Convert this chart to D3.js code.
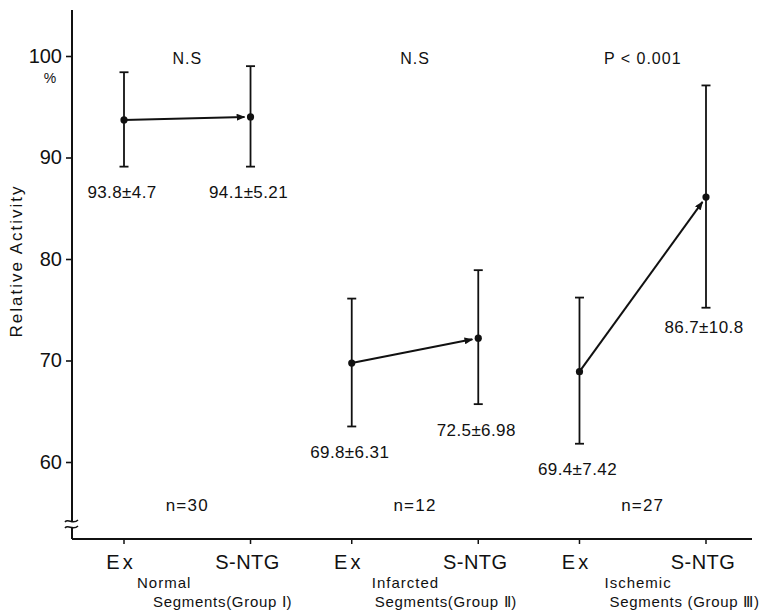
<!DOCTYPE html>
<meta charset="utf-8">
<script src="https://d3js.org/d3.v7.min.js"></script>
<style>
  body { margin: 0; background: #fff; }
  text { font-family: "Liberation Sans", Arial, sans-serif; fill: #111; }
</style>
<div id="my_dataviz"></div>
<script>

// data
var groups     = ["Normal", "Infarcted", "Ischemic"];
var groupSub   = ["Segments(Group \u2160)", "Segments(Group \u2161)", "Segments (Group \u2162)"];
var conditions = ["Ex", "S-NTG"];
var means  = [[93.7, 94.0], [69.75, 72.2], [68.9, 86.1]];
var upper  = [[98.4, 99.0], [76.1, 78.9], [76.2, 97.1]];
var lower  = [[89.1, 89.1], [63.5, 65.7], [61.8, 75.2]];
var valueLabels = [["93.8\u00b14.7", "94.1\u00b15.21"], ["69.8\u00b16.31", "72.5\u00b16.98"], ["69.4\u00b17.42", "86.7\u00b110.8"]];
var pLabels = ["N.S", "N.S", "P < 0.001"];
var nLabels = ["n=30", "n=12", "n=27"];
var yTicks  = [60, 70, 80, 90, 100];

// set the dimensions and margins of the graph
var margin = {top: 10, right: 8, bottom: 73, left: 72},
    width = 761 - margin.left - margin.right,
    height = 612 - margin.top - margin.bottom;

var svg = d3.select("#my_dataviz")
  .append("svg")
    .attr("width", width + margin.left + margin.right)
    .attr("height", height + margin.top + margin.bottom)
  .append("g")
    .attr("transform", "translate(" + margin.left + "," + margin.top + ")");

// x: slot positions, groups are a bit closer to each other than the two conditions
var groupStep = 1.8;
var x = d3.scaleLinear().domain([0, 4.6]).range([52, 634]);
function slot(g, c) { return g * groupStep + c; }

var y = d3.scaleLinear().domain([60, 100]).range([452, 46]);

// flat list of points
var pts = [];
groups.forEach(function(g, gi) {
  conditions.forEach(function(c, ci) {
    pts.push({g: gi, c: ci, cond: c, mean: means[gi][ci], hi: upper[gi][ci], lo: lower[gi][ci], label: valueLabels[gi][ci]});
  });
});

// Y axis
var yAxis = svg.append("g")
  .call(d3.axisLeft(y).tickValues(yTicks).tickSize(6).tickPadding(4));
yAxis.select(".domain").remove();
yAxis.selectAll("line").attr("stroke", "#111").attr("stroke-width", 1.6);
yAxis.selectAll("text").style("font-size", "20px").attr("fill", "#111");

svg.append("line")
  .attr("x1", 0).attr("x2", 0).attr("y1", 0).attr("y2", height)
  .attr("stroke", "#111").attr("stroke-width", 2);

// break mark on the y axis
var brk = svg.append("g").attr("transform", "translate(0," + (height - 15) + ")");
brk.append("rect").attr("x", -4).attr("y", -3).attr("width", 8).attr("height", 6).attr("fill", "#fff");
[-3, 3].forEach(function(dy) {
  brk.append("path")
    .attr("d", "M-7," + (dy + 1) + " C-4," + (dy - 3) + " 1," + (dy + 4) + " 6," + (dy - 1))
    .attr("fill", "none").attr("stroke", "#111").attr("stroke-width", 1.5);
});

svg.append("text")
  .attr("x", -22).attr("y", y(100) + 27)
  .attr("text-anchor", "middle")
  .style("font-size", "14px")
  .text("%");

// Y label
svg.append("text")
  .attr("transform", "translate(" + (-50) + "," + y(79.8) + ") rotate(-90)")
  .attr("text-anchor", "middle")
  .style("font-size", "17px")
  .style("letter-spacing", "2px")
  .text("Relative Activity");

// X axis
svg.append("line")
  .attr("x1", 0).attr("x2", width - 1).attr("y1", height).attr("y2", height)
  .attr("stroke", "#111").attr("stroke-width", 2);

svg.selectAll(".xtick")
  .data(pts)
  .enter().append("line")
    .attr("x1", function(d) { return x(slot(d.g, d.c)); })
    .attr("x2", function(d) { return x(slot(d.g, d.c)); })
    .attr("y1", height).attr("y2", height + 5)
    .attr("stroke", "#111").attr("stroke-width", 1.5);

svg.selectAll(".xlab")
  .data(pts)
  .enter().append("text")
    .attr("x", function(d) { return x(slot(d.g, d.c)) - 3; })
    .attr("y", height + 30)
    .attr("text-anchor", "middle")
    .style("font-size", "20px")
    .style("letter-spacing", function(d) { return d.c == 0 ? "3px" : "0.5px"; })
    .text(function(d) { return d.cond; });

// group captions
var capOffset = [[13, 29], [20, 23], [25, 30]];
groups.forEach(function(g, gi) {
  svg.append("text")
    .attr("x", x(slot(gi, 0)) + capOffset[gi][0])
    .attr("y", height + 49)
    .style("font-size", "15px")
    .style("letter-spacing", "1px")
    .text(g);
  svg.append("text")
    .attr("x", x(slot(gi, 0)) + capOffset[gi][1])
    .attr("y", height + 68)
    .style("font-size", "15px")
    .style("letter-spacing", "0.7px")
    .text(groupSub[gi]);
});

// arrow marker
svg.append("defs").append("marker")
  .attr("id", "arrow")
  .attr("markerUnits", "userSpaceOnUse")
  .attr("viewBox", "0 0 10 8")
  .attr("refX", 9).attr("refY", 4)
  .attr("markerWidth", 9).attr("markerHeight", 7)
  .attr("orient", "auto")
  .append("path")
    .attr("d", "M0,0 L10,4 L0,8 z")
    .attr("fill", "#111");

// error bars
var cap = 4.5;
var bars = svg.selectAll(".bar").data(pts).enter().append("g");
bars.append("line")
  .attr("x1", function(d) { return x(slot(d.g, d.c)); })
  .attr("x2", function(d) { return x(slot(d.g, d.c)); })
  .attr("y1", function(d) { return y(d.hi); })
  .attr("y2", function(d) { return y(d.lo); })
  .attr("stroke", "#111").attr("stroke-width", 1.8);
["hi", "lo"].forEach(function(k) {
  bars.append("line")
    .attr("x1", function(d) { return x(slot(d.g, d.c)) - cap; })
    .attr("x2", function(d) { return x(slot(d.g, d.c)) + cap; })
    .attr("y1", function(d) { return y(d[k]); })
    .attr("y2", function(d) { return y(d[k]); })
    .attr("stroke", "#111").attr("stroke-width", 1.8);
});

// arrows from Ex to S-NTG
groups.forEach(function(g, gi) {
  var x1 = x(slot(gi, 0)), y1 = y(means[gi][0]);
  var x2 = x(slot(gi, 1)), y2 = y(means[gi][1]);
  var len = Math.sqrt((x2 - x1) * (x2 - x1) + (y2 - y1) * (y2 - y1));
  var k = (len - 6) / len;
  svg.append("line")
    .attr("x1", x1).attr("y1", y1)
    .attr("x2", x1 + (x2 - x1) * k).attr("y2", y1 + (y2 - y1) * k)
    .attr("stroke", "#111").attr("stroke-width", 2)
    .attr("marker-end", "url(#arrow)");
});

// mean dots
bars.append("circle")
  .attr("cx", function(d) { return x(slot(d.g, d.c)); })
  .attr("cy", function(d) { return y(d.mean); })
  .attr("r", 3.6)
  .attr("fill", "#111");

// value labels
bars.append("text")
  .attr("x", function(d) { return x(slot(d.g, d.c)) - 2; })
  .attr("y", function(d) { return y(d.lo) + (d.g == 2 && d.c == 1 ? 20 : 26); })
  .attr("text-anchor", "middle")
  .attr("dominant-baseline", "central")
  .style("font-size", "17px")
  .style("letter-spacing", "0.4px")
  .text(function(d) { return d.label; });

// significance and n
groups.forEach(function(g, gi) {
  var mid = (x(slot(gi, 0)) + x(slot(gi, 1))) / 2;
  svg.append("text")
    .attr("x", mid).attr("y", y(100) + 2)
    .attr("text-anchor", "middle")
    .attr("dominant-baseline", "central")
    .style("font-size", "16px")
    .style("letter-spacing", "1px")
    .text(pLabels[gi]);
  svg.append("text")
    .attr("x", mid).attr("y", height - 34)
    .attr("text-anchor", "middle")
    .attr("dominant-baseline", "central")
    .style("font-size", "17px")
    .style("letter-spacing", "1.2px")
    .text(nLabels[gi]);
});

</script>
